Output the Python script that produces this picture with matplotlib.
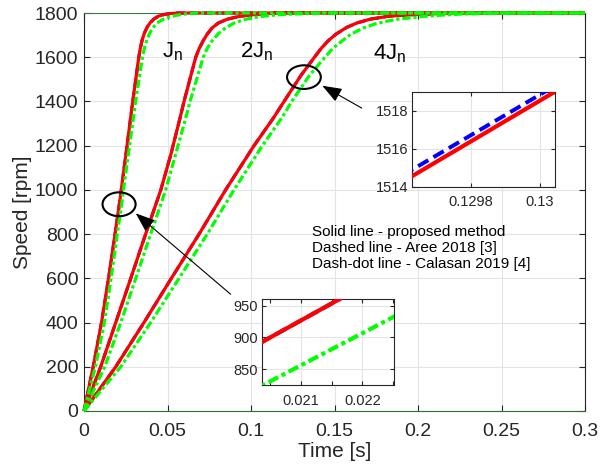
import matplotlib
matplotlib.use('Agg')
import matplotlib.pyplot as plt
from matplotlib.patches import Ellipse

plt.rcParams['font.family'] = ['Liberation Sans', 'DejaVu Sans']
plt.rcParams['mathtext.fontset'] = 'custom'
plt.rcParams['mathtext.rm'] = 'Liberation Sans'
plt.rcParams['mathtext.it'] = 'Liberation Sans'

# ---- speed responses (time in s, speed in rpm) ----
# inertia J_n
t_jn_prop = [0, 0.0055, 0.0105, 0.0147, 0.0186, 0.02037, 0.02162, 0.0258, 0.0279, 0.0292,
             0.0328, 0.0337, 0.0349, 0.0362, 0.0379, 0.0397, 0.0419, 0.0447, 0.0479,
             0.0510, 0.056, 0.3]
w_jn_prop = [0, 200, 400, 600, 800, 893, 960, 1200, 1325, 1400,
             1600, 1640, 1680, 1710, 1737, 1757, 1773, 1786, 1793,
             1797, 1800, 1800]
t_jn_aree = [0, 0.0055, 0.0105, 0.0147, 0.0186, 0.02037, 0.02162, 0.0258, 0.0279, 0.0292,
             0.0328, 0.0337, 0.0349, 0.0362, 0.0379, 0.0397, 0.0419, 0.0447, 0.0479,
             0.0510, 0.056, 0.3]
w_jn_aree = [0, 200, 400, 600, 800, 893, 960, 1200, 1325, 1400,
             1600, 1640, 1680, 1710, 1737, 1757, 1773, 1786, 1793,
             1797, 1800, 1800]
t_jn_cal = [0, 0.0068, 0.0122, 0.0162, 0.0199, 0.02037, 0.02252, 0.0236, 0.0273, 0.0302,
            0.0309, 0.0350, 0.0361, 0.0375, 0.0392, 0.0412, 0.0438, 0.0470, 0.0510,
            0.0555, 0.060, 0.067, 0.3]
w_jn_cal = [0, 200, 400, 600, 800, 824, 933, 1000, 1200, 1361,
            1400, 1600, 1640, 1675, 1707, 1733, 1755, 1770, 1782,
            1790, 1795, 1800, 1800]

# inertia 2J_n
t_2jn_prop = [0, 0.010, 0.019, 0.028, 0.0369, 0.0460, 0.0520, 0.0575, 0.0599, 0.0669,
              0.0690, 0.0714, 0.0740, 0.0768, 0.0805, 0.0858, 0.0920, 0.0978, 0.105,
              0.116, 0.3]
w_2jn_prop = [0, 200, 400, 600, 800, 1000, 1160, 1325, 1400, 1600,
              1640, 1675, 1707, 1733, 1755, 1772, 1783, 1790, 1795,
              1800, 1800]
t_2jn_aree = [0, 0.010, 0.019, 0.028, 0.0369, 0.0460, 0.0520, 0.0575, 0.0599, 0.0669,
              0.0690, 0.0714, 0.0740, 0.0768, 0.0805, 0.0858, 0.0920, 0.0978, 0.105,
              0.116, 0.3]
w_2jn_aree = [0, 200, 400, 600, 800, 1000, 1160, 1325, 1400, 1600,
              1640, 1675, 1707, 1733, 1755, 1772, 1783, 1790, 1795,
              1800, 1800]
t_2jn_cal = [0, 0.0124, 0.022, 0.031, 0.0399, 0.0489, 0.0550, 0.0609, 0.0635, 0.0714,
             0.0738, 0.0768, 0.0805, 0.0848, 0.0900, 0.0958, 0.1020, 0.1078, 0.116,
             0.127, 0.145, 0.3]
w_2jn_cal = [0, 200, 400, 600, 800, 1000, 1165, 1325, 1400, 1600,
             1640, 1675, 1707, 1733, 1755, 1770, 1780, 1786, 1792,
             1796, 1800, 1800]

# inertia 4J_n
t_4jn_prop = [0, 0.019, 0.0359, 0.0523, 0.0689, 0.0848, 0.1018, 0.1134, 0.1198, 0.12963,
              0.130045, 0.1380, 0.1418, 0.1463, 0.1510, 0.1573, 0.1635, 0.1713, 0.1820,
              0.1952, 0.2080, 0.2250, 0.245, 0.3]
w_4jn_prop = [0, 200, 400, 600, 800, 1000, 1200, 1325, 1400, 1514.56,
              1519.0, 1600, 1638, 1675, 1705, 1735, 1755, 1772, 1785,
              1792, 1796, 1799, 1800, 1800]
t_4jn_aree = [0, 0.019, 0.0359, 0.0523, 0.0689, 0.0848, 0.1018, 0.1134, 0.1198, 0.12963,
              0.130016, 0.1380, 0.1418, 0.1463, 0.1510, 0.1573, 0.1635, 0.1713, 0.1820,
              0.1952, 0.2080, 0.2250, 0.245, 0.3]
w_4jn_aree = [0, 200, 400, 600, 800, 1000, 1200, 1325, 1400, 1514.9,
              1519.0, 1600, 1638, 1675, 1705, 1735, 1755, 1772, 1785,
              1792, 1796, 1799, 1800, 1800]
t_4jn_cal = [0, 0.022, 0.0399, 0.0569, 0.0738, 0.0898, 0.1068, 0.1184, 0.1244, 0.1353,
             0.1443, 0.1490, 0.1543, 0.1600, 0.1673, 0.1740, 0.1813, 0.1880, 0.1952,
             0.2040, 0.2132, 0.2250, 0.240, 0.262, 0.3]
w_4jn_cal = [0, 200, 400, 600, 800, 1000, 1200, 1325, 1400, 1521,
             1600, 1640, 1672, 1705, 1732, 1750, 1763, 1772, 1778,
             1785, 1790, 1795, 1798, 1800, 1800]

proposed = [(t_jn_prop, w_jn_prop), (t_2jn_prop, w_2jn_prop), (t_4jn_prop, w_4jn_prop)]
aree = [(t_jn_aree, w_jn_aree), (t_2jn_aree, w_2jn_aree), (t_4jn_aree, w_4jn_aree)]
calasan = [(t_jn_cal, w_jn_cal), (t_2jn_cal, w_2jn_cal), (t_4jn_cal, w_4jn_cal)]

# ---- axis ticks ----
x_ticks = [0, 0.05, 0.1, 0.15, 0.2, 0.25, 0.3]
x_tick_labels = ['0', '0.05', '0.1', '0.15', '0.2', '0.25', '0.3']
y_ticks = [0, 200, 400, 600, 800, 1000, 1200, 1400, 1600, 1800]
y_tick_labels = ['0', '200', '400', '600', '800', '1000', '1200', '1400', '1600', '1800']

inset1_x_ticks = [0.021, 0.022]
inset1_x_labels = ['0.021', '0.022']
inset1_x_minor = [0.0205, 0.0215, 0.0225]
inset1_y_ticks = [850, 900, 950]
inset1_y_labels = ['850', '900', '950']

inset2_x_ticks = [0.1298, 0.13]
inset2_x_labels = ['0.1298', '0.13']
inset2_y_ticks = [1514, 1516, 1518]
inset2_y_labels = ['1514', '1516', '1518']

legend_lines = ['Solid line - proposed method',
                'Dashed line - Aree 2018 [3]',
                'Dash-dot line - Calasan 2019 [4]']

RED = '#ff0000'
GREEN = '#00ff00'
BLUE = '#0000ff'
AXC = '#262626'
GRIDC = '#e4e4e4'


def draw_series(ax, lw, clip):
    for t, w in aree:
        ax.plot(t, w, color=BLUE, lw=lw * 0.95, linestyle=(0, (3.0, 1.5)),
                clip_on=clip, zorder=3)
    for t, w in proposed:
        ax.plot(t, w, color=RED, lw=lw, linestyle='-', clip_on=clip, zorder=4,
                solid_capstyle='butt', solid_joinstyle='round')
    for t, w in calasan:
        ax.plot(t, w, color=GREEN, lw=lw, linestyle=(0, (2.6, 0.9, 1.0, 0.9)),
                clip_on=clip, zorder=5)


def style_axes(ax, fs, ticklen, pad):
    ax.tick_params(which='both', direction='in', top=True, right=True,
                   labelsize=fs, colors=AXC, length=ticklen, width=0.8, pad=pad)
    ax.tick_params(which='minor', length=ticklen)
    ax.grid(True, which='major', color=GRIDC, lw=0.8)
    ax.set_axisbelow(True)
    for s in ax.spines.values():
        s.set_color(AXC)
        s.set_linewidth(0.8)


fig = plt.figure(figsize=(6, 4.68), dpi=100)

# ---- main axes ----
ax = fig.add_axes([0.14, 0.1218, 0.835, 0.8504])
draw_series(ax, 2.3, False)
ax.set_xlim(0, 0.3)
ax.set_ylim(0, 1800)
ax.set_xticks(x_ticks)
ax.set_xticklabels(x_tick_labels)
ax.set_yticks(y_ticks)
ax.set_yticklabels(y_tick_labels)
style_axes(ax, 14, 4.5, 4)
ax.tick_params(axis='x', pad=9)
ax.spines['bottom'].set_color('#2f6b2f')
ax.spines['top'].set_color('#3c7a3c')
ax.set_xlabel('Time [s]', fontsize=15, color=AXC, labelpad=1)
ax.set_ylabel('Speed [rpm]', fontsize=15, color=AXC, labelpad=2)

# inertia labels
ax.text(0.0467, 1601, r'$\mathregular{J_n}$', fontsize=16, color='black', va='baseline')
ax.text(0.0934, 1601, r'$\mathregular{2J_n}$', fontsize=16, color='black', va='baseline')
ax.text(0.1733, 1592, r'$\mathregular{4J_n}$', fontsize=16, color='black', va='baseline')

# zoom markers
ax.add_patch(Ellipse((0.021, 935), 0.0198, 108, fill=False, lw=1.5,
                     edgecolor='black', zorder=6, clip_on=False))
ax.add_patch(Ellipse((0.1317, 1510), 0.0202, 107, fill=False, lw=1.5,
                     edgecolor='black', zorder=6, clip_on=False))
arrow_kw = dict(arrowstyle='-|>,head_length=1.2,head_width=0.45', color='black',
                lw=0.8, mutation_scale=10, shrinkA=0, shrinkB=0)
ax.annotate('', xy=(0.03096, 894), xytext=(0.0878, 528), arrowprops=arrow_kw, zorder=6)
ax.annotate('', xy=(0.1427, 1471), xytext=(0.1663, 1370), arrowprops=arrow_kw, zorder=6)

# method description
for i, line in enumerate(legend_lines):
    ax.text(0.1363, 811 - i * 73, line, fontsize=11, color='black', va='center', ha='left')

# ---- inset around J_n ----
ins1 = fig.add_axes([0.4372, 0.1767, 0.22, 0.1844])
draw_series(ins1, 3.0, True)
ins1.set_xlim(0.02037, 0.02252)
ins1.set_ylim(824.3, 960.6)
ins1.set_xticks(inset1_x_ticks)
ins1.set_xticklabels(inset1_x_labels)
ins1.set_xticks(inset1_x_minor, minor=True)
ins1.set_yticks(inset1_y_ticks)
ins1.set_yticklabels(inset1_y_labels)
style_axes(ins1, 10.5, 3, 3)
ins1.tick_params(axis='x', pad=6)

# ---- inset around 4J_n ----
ins2 = fig.add_axes([0.6872, 0.6011, 0.2378, 0.203])
draw_series(ins2, 3.0, True)
ins2.set_xlim(0.12963, 0.130045)
ins2.set_ylim(1514, 1519)
ins2.set_xticks(inset2_x_ticks)
ins2.set_xticklabels(inset2_x_labels)
ins2.set_yticks(inset2_y_ticks)
ins2.set_yticklabels(inset2_y_labels)
style_axes(ins2, 10.5, 3, 3)
ins2.tick_params(axis='x', pad=6)

fig.savefig('out.png', dpi=100)
